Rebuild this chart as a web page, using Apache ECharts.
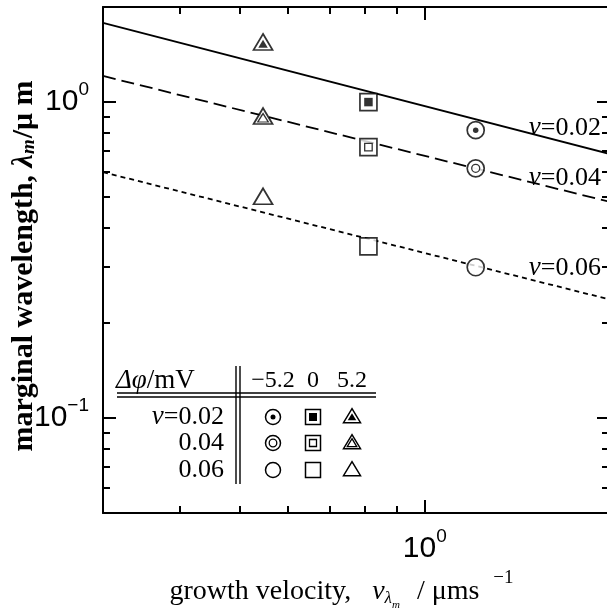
<!DOCTYPE html>
<html><head><meta charset="utf-8">
<script src="https://cdn.jsdelivr.net/npm/echarts@6/dist/echarts.min.js"></script>
<style>html,body{margin:0;padding:0;background:#fff}#c{width:607px;height:614px}</style>
</head><body><div id="c"></div>
<script>
// ---- axis ranges and ticks ----
const xRange = [0.3, 2];
const yRange = [0.05, 2];
const xMajorTicks = [1];
const xMinorTicks = [0.3, 0.4, 0.5, 0.6, 0.7, 0.8, 0.9, 2];
const yMajorTicks = [0.1, 1];
const yMinorTicks = [0.05, 0.06, 0.07, 0.08, 0.09, 0.2, 0.3, 0.4, 0.5, 0.6, 0.7, 0.8, 0.9, 2];

// ---- fitted lines [velocity, wavelength] for nu = 0.02, 0.04, 0.06 ----
const lineNu002 = [[0.3, 1.78], [2, 0.685]];
const lineNu004 = [[0.3, 1.21], [2, 0.483]];
const lineNu006 = [[0.3, 0.60], [2, 0.237]];
const lineLabels = ['0.02', '0.04', '0.06'];

// ---- measurements (rows: nu = 0.02, 0.04, 0.06) ----
const nuLevels = ['0.02', '0.04', '0.06'];
const phiLevels = ['−5.2', '0', '5.2'];
const velocityNeg = [1.21, 1.21, 1.21];
const lambdaNeg = [0.815, 0.617, 0.300];
const velocityZero = [0.81, 0.81, 0.81];
const lambdaZero = [1.00, 0.720, 0.349];
const velocityPos = [0.546, 0.546, 0.546];
const lambdaPos = [1.55, 0.903, 0.503];

const chart = echarts.init(document.getElementById('c'), null, {renderer: 'canvas'});

const SERIF = 'Liberation Serif';
const SANS = 'Liberation Sans';
const K = '#000';

function supLabel(v) {
  const e = Math.round(Math.log10(v));
  return '{b|10}{s|' + (e < 0 ? '−' + (-e) : e) + '}';
}
const tickRich = {
  b: {fontFamily: SANS, fontSize: 30, color: K},
  s: {fontFamily: SANS, fontSize: 19, color: K, padding: [0, 0, 24, 0]}
};

function makeAxis(pos, range, ticks, len, opts) {
  return Object.assign({
    type: 'log', logBase: 10, position: pos, min: range[0], max: range[1],
    gridIndex: 0,
    axisLine: {show: true, onZero: false, lineStyle: {color: K, width: 2}},
    axisTick: {show: true, inside: true, length: len, customValues: ticks, lineStyle: {color: K, width: 2}},
    axisLabel: {show: false},
    splitLine: {show: false},
    minorTick: {show: false},
    minorSplitLine: {show: false}
  }, opts || {});
}

const xAxes = [
  makeAxis('bottom', xRange, xMajorTicks, 13, {
    axisLabel: {show: true, customValues: xMajorTicks, margin: 14, formatter: supLabel, rich: tickRich},
    name: '{n|growth velocity,   }{i|v}{sub|λ}{ss|m}{n| / μms}{sup|−1}',
    nameLocation: 'middle', nameGap: 56,
    nameTextStyle: {
      padding: [0, 30, 0, 0],
      rich: {
        n: {fontFamily: SERIF, fontSize: 28, color: K},
        i: {fontFamily: SERIF, fontSize: 28, fontStyle: 'italic', color: K},
        sub: {fontFamily: SERIF, fontSize: 17, fontStyle: 'italic', color: K, padding: [14, 0, 0, 0]},
        ss: {fontFamily: SERIF, fontSize: 11, fontStyle: 'italic', color: K, padding: [28, 10, 0, 0]},
        sup: {fontFamily: SERIF, fontSize: 19, color: K, padding: [0, 0, 26, 14]}
      }
    }
  }),
  makeAxis('bottom', xRange, xMinorTicks, 7, {axisLine: {show: false}}),
  makeAxis('top', xRange, xMajorTicks, 13),
  makeAxis('top', xRange, xMinorTicks, 7, {axisLine: {show: false}})
];
const yAxes = [
  makeAxis('left', yRange, yMajorTicks, 13, {
    axisLabel: {show: true, customValues: yMajorTicks, margin: 14, formatter: supLabel, rich: tickRich},
    name: '{n|marginal wavelength, }{i|λ}{sub|m}{n|/μ m}',
    nameLocation: 'middle', nameRotate: 90, nameGap: 64, nameMoveOverlap: false,
    nameTextStyle: {
      padding: [0, 12, 0, 0],
      rich: {
        n: {fontFamily: SERIF, fontSize: 30, fontWeight: 'bold', color: K},
        i: {fontFamily: SERIF, fontSize: 30, fontStyle: 'italic', fontWeight: 'bold', color: K},
        sub: {fontFamily: SERIF, fontSize: 19, fontStyle: 'italic', fontWeight: 'bold', color: K, padding: [11, 1, 0, 0]}
      }
    }
  }),
  makeAxis('left', yRange, yMinorTicks, 7, {axisLine: {show: false}}),
  makeAxis('right', yRange, yMajorTicks, 13),
  makeAxis('right', yRange, yMinorTicks, 8, {axisLine: {show: false}})
];

const series = [];
function lineSeries(data, type) {
  series.push({
    type: 'line', data: data, xAxisIndex: 0, yAxisIndex: 0, symbol: 'none', silent: true,
    lineStyle: {color: K, width: 1.8, type: type}, z: 2, animation: false
  });
}
lineSeries(lineNu002, 'solid');
lineSeries(lineNu004, [13, 6]);
lineSeries(lineNu006, [5, 4]);

// marker definitions for each delta-phi group
const groups = [
  {vel: velocityNeg, lam: lambdaNeg, symbol: 'circle', outer: 17,
   inner: [{size: 5.5, fill: true}, {size: 8, fill: false}], innerOffset: [0, 0]},
  {vel: velocityZero, lam: lambdaZero, symbol: 'rect', outer: 17,
   inner: [{size: 8.5, fill: true}, {size: 7.5, fill: false}], innerOffset: [0, 0]},
  {vel: velocityPos, lam: lambdaPos, symbol: 'triangle', outer: [19, 16],
   inner: [{size: [9.5, 8], fill: true}, {size: [10.5, 8.5], fill: false}], innerOffset: [0, 1.7]}
];
groups.forEach(g => {
  g.vel.forEach((v, i) => {
    series.push({
      type: 'scatter', xAxisIndex: 0, yAxisIndex: 0, data: [[v, g.lam[i]]],
      symbol: g.symbol, symbolSize: g.outer, z: 5, silent: true, animation: false,
      itemStyle: {color: '#fff', borderColor: K, borderWidth: 1.7}
    });
    const inn = g.inner[i];
    if (inn) {
      series.push({
        type: 'scatter', xAxisIndex: 0, yAxisIndex: 0, data: [[v, g.lam[i]]],
        symbol: g.symbol, symbolSize: inn.size, symbolOffset: g.innerOffset, z: 6, silent: true, animation: false,
        itemStyle: inn.fill ? {color: K} : {color: '#fff', borderColor: K, borderWidth: 1.3}
      });
    }
  });
});

// ---- graphics: line labels and legend table ----
const nuRich = {
  nu: {fontFamily: SERIF, fontSize: 27, fontStyle: 'italic', color: K},
  t: {fontFamily: SERIF, fontSize: 26, color: K}
};
const graphic = [];
const lineLabelY = [128, 178, 268];
lineLabels.forEach((l, i) => {
  graphic.push({type: 'text', x: 601, y: lineLabelY[i], z: 20,
    style: {text: '{nu|ν}{t|=' + l + '}', rich: nuRich, align: 'right', verticalAlign: 'middle'}});
});

// legend table
const colX = [273, 313, 352];
const rowY = [417, 443, 470];
const headerY = 381;
graphic.push({type: 'text', x: 116, y: headerY, z: 20,
  style: {text: '{i|Δφ}{t|/mV}', verticalAlign: 'middle', rich: {
    i: {fontFamily: SERIF, fontSize: 27, fontStyle: 'italic', color: K},
    t: {fontFamily: SERIF, fontSize: 27, color: K}}}});
phiLevels.forEach((p, j) => {
  graphic.push({type: 'text', x: colX[j], y: headerY, z: 20,
    style: {text: p, font: '24px "Liberation Serif"', fill: K, align: 'center', verticalAlign: 'middle'}});
});
nuLevels.forEach((n, i) => {
  graphic.push({type: 'text', x: 224, y: rowY[i], z: 20,
    style: {text: i === 0 ? '{nu|ν}{t|=' + n + '}' : '{t|' + n + '}', rich: nuRich, align: 'right', verticalAlign: 'middle'}});
});
// double rules
[393, 397].forEach(y => graphic.push({type: 'line', z: 20, shape: {x1: 117, y1: y, x2: 376, y2: y}, style: {stroke: K, lineWidth: 1.4}}));
[236, 240].forEach(x => graphic.push({type: 'line', z: 20, shape: {x1: x, y1: 366, x2: x, y2: 484}, style: {stroke: K, lineWidth: 1.4}}));
// legend symbols
const ow = {fill: '#fff', stroke: K, lineWidth: 1.5};
function tri(cx, cy, w, h) {
  return [[cx, cy - h * 2 / 3], [cx + w / 2, cy + h / 3], [cx - w / 2, cy + h / 3]];
}
rowY.forEach((y, i) => {
  graphic.push({type: 'circle', z: 20, shape: {cx: colX[0], cy: y, r: 7.5}, style: ow});
  graphic.push({type: 'rect', z: 20, shape: {x: colX[1] - 7.5, y: y - 7.5, width: 15, height: 15}, style: ow});
  graphic.push({type: 'polygon', z: 20, shape: {points: tri(colX[2], y + 1, 17, 14)}, style: ow});
  if (i === 0) {
    graphic.push({type: 'circle', z: 21, shape: {cx: colX[0], cy: y, r: 2.5}, style: {fill: K}});
    graphic.push({type: 'rect', z: 21, shape: {x: colX[1] - 4, y: y - 4, width: 8, height: 8}, style: {fill: K}});
    graphic.push({type: 'polygon', z: 21, shape: {points: tri(colX[2], y + 1, 8.5, 7)}, style: {fill: K}});
  } else if (i === 1) {
    graphic.push({type: 'circle', z: 21, shape: {cx: colX[0], cy: y, r: 3.8}, style: {fill: '#fff', stroke: K, lineWidth: 1.3}});
    graphic.push({type: 'rect', z: 21, shape: {x: colX[1] - 3.5, y: y - 3.5, width: 7, height: 7}, style: {fill: '#fff', stroke: K, lineWidth: 1.3}});
    graphic.push({type: 'polygon', z: 21, shape: {points: tri(colX[2], y + 1, 9.5, 8)}, style: {fill: '#fff', stroke: K, lineWidth: 1.3}});
  }
});

chart.setOption({
  animation: false,
  backgroundColor: '#fff',
  grid: {left: 103, top: 7, right: -3, bottom: 101, containLabel: false, outerBoundsMode: 'none'},
  xAxis: xAxes,
  yAxis: yAxes,
  series: series,
  graphic: graphic
});
</script>
</body></html>
